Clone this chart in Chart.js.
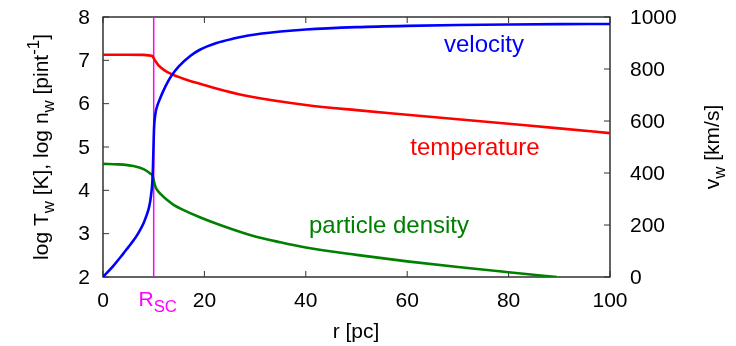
<!DOCTYPE html>
<html>
<head>
<meta charset="utf-8">
<script src="https://cdn.jsdelivr.net/npm/chart.js@4"></script>
<style>
  body { margin: 0; background: #fff; }
  canvas { display: block; }
</style>
</head>
<body>
<canvas id="chart" width="736" height="346"></canvas>
<script>
// Tick values
const xTicks = [0, 20, 40, 60, 80, 100];
const leftTicks = [2, 3, 4, 5, 6, 7, 8];
const rightTicks = [0, 200, 400, 600, 800, 1000];

// Sonic radius
const rSC = 10;

// Temperature (log T, left axis)
const rTemp = [0, 5, 8, 9, 9.5, 9.8, 10, 10.3, 10.9, 12, 13.2, 16, 19.1, 24, 29, 40, 50, 60, 70, 80, 90, 100];
const logTemp = [7.13, 7.13, 7.125, 7.115, 7.105, 7.09, 7.05, 6.99, 6.89, 6.78, 6.70, 6.57, 6.46, 6.30, 6.165, 5.97, 5.85, 5.745, 5.64, 5.535, 5.43, 5.32];

// Velocity (km/s, right axis)
const rVel = [0, 2, 4, 5, 6, 7, 8, 8.5, 9, 9.3, 9.5, 9.65, 9.75, 9.85, 9.92, 10, 10.05, 10.1, 10.15, 10.25, 10.4, 10.7, 11.2, 11.9, 12.6, 13.5, 15, 17.2, 19.1, 22.4, 26, 29, 35, 40, 50, 60, 70, 80, 90, 100];
const velocity = [0, 42, 90, 115, 140, 170, 207, 232, 262, 290, 318, 345, 372, 420, 470, 530, 562, 584, 598, 616, 636, 658, 684, 716, 744, 774, 811, 850, 874, 900, 918, 930, 944, 952, 961, 966, 969, 971, 972.5, 973];

// Particle density (log n, left axis)
const rDens = [0, 3, 6, 8, 9.3, 9.8, 10, 10.2, 10.6, 11.5, 12.6, 14, 15.8, 19.1, 23.1, 29, 35, 40, 50, 60, 70, 80, 89.5];
const logDens = [4.61, 4.60, 4.56, 4.49, 4.39, 4.33, 4.24, 4.13, 4.02, 3.90, 3.78, 3.66, 3.55, 3.38, 3.20, 2.97, 2.80, 2.68, 2.51, 2.36, 2.23, 2.11, 2.0];

const FONT = '"Liberation Sans", Arial, sans-serif';

function pts(xs, ys) {
  return xs.map((x, i) => ({ x: x, y: ys[i] }));
}

// Draw text with sub/superscript parts
function drawRich(ctx, parts, x, y, size, color, align) {
  let total = 0;
  parts.forEach((p) => {
    ctx.font = (p.s ? size * 0.8 : size) + 'px ' + FONT;
    p.w = ctx.measureText(p.t).width;
    total += p.w;
  });
  let cx = align === 'center' ? x - total / 2 : x;
  ctx.fillStyle = color;
  ctx.textAlign = 'left';
  ctx.textBaseline = 'alphabetic';
  parts.forEach((p) => {
    ctx.font = (p.s ? size * 0.8 : size) + 'px ' + FONT;
    const dy = p.s === 'sub' ? size * 0.3 : p.s === 'sup' ? -size * 0.42 : 0;
    ctx.fillText(p.t, cx, y + dy);
    cx += p.w;
  });
}

const framePlugin = {
  id: 'frame',
  beforeDatasetsDraw(chart) {
    const { ctx, chartArea: a, scales } = chart;
    ctx.save();
    ctx.strokeStyle = '#111';
    ctx.lineWidth = 1.3;
    ctx.strokeRect(a.left, a.top, a.right - a.left, a.bottom - a.top);

    // Inward ticks
    ctx.lineWidth = 1;
    ctx.strokeStyle = '#333';
    ctx.beginPath();
    xTicks.forEach((v) => {
      const px = scales.x.getPixelForValue(v);
      ctx.moveTo(px, a.bottom);
      ctx.lineTo(px, a.bottom - 6);
      ctx.moveTo(px, a.top);
      ctx.lineTo(px, a.top + 6);
    });
    leftTicks.forEach((v) => {
      const py = scales.y.getPixelForValue(v);
      ctx.moveTo(a.left, py);
      ctx.lineTo(a.left + 6, py);
    });
    rightTicks.forEach((v) => {
      const py = scales.y2.getPixelForValue(v);
      ctx.moveTo(a.right, py);
      ctx.lineTo(a.right - 6, py);
    });
    ctx.stroke();
    ctx.restore();
  },
  afterDraw(chart) {
    const { ctx, chartArea: a, scales } = chart;
    ctx.save();
    ctx.fillStyle = '#000';
    ctx.font = '21px ' + FONT;

    // Tick labels
    ctx.textAlign = 'center';
    ctx.textBaseline = 'alphabetic';
    xTicks.forEach((v) => {
      ctx.fillText(String(v), scales.x.getPixelForValue(v), a.bottom + 30);
    });
    ctx.textAlign = 'right';
    ctx.textBaseline = 'middle';
    leftTicks.forEach((v) => {
      ctx.fillText(String(v), a.left - 13, scales.y.getPixelForValue(v) + 1);
    });
    ctx.textAlign = 'left';
    rightTicks.forEach((v) => {
      ctx.fillText(String(v), a.right + 20, scales.y2.getPixelForValue(v) + 1);
    });

    // R_SC label
    drawRich(ctx, [{ t: 'R' }, { t: 'SC', s: 'sub' }],
      scales.x.getPixelForValue(rSC) + 4, a.bottom + 29, 21, '#ff00ff', 'center');

    // Axis titles
    drawRich(ctx, [{ t: 'r [pc]' }], 356, 338, 21, '#000', 'center');

    ctx.save();
    ctx.translate(48, (a.top + a.bottom) / 2);
    ctx.rotate(-Math.PI / 2);
    drawRich(ctx, [
      { t: 'log T' }, { t: 'w', s: 'sub' }, { t: ' [K], log n' }, { t: 'w', s: 'sub' },
      { t: ' [pint' }, { t: '-1', s: 'sup' }, { t: ']' },
    ], 0, 0, 21, '#000', 'center');
    ctx.restore();

    ctx.save();
    ctx.translate(719, (a.top + a.bottom) / 2);
    ctx.rotate(-Math.PI / 2);
    drawRich(ctx, [{ t: 'v' }, { t: 'w', s: 'sub' }, { t: ' [km/s]' }], 0, 0, 21, '#000', 'center');
    ctx.restore();

    // Curve labels
    drawRich(ctx, [{ t: 'velocity' }], 484, 52, 24, '#0000ff', 'center');
    drawRich(ctx, [{ t: 'temperature' }], 475, 155, 24, '#ff0000', 'center');
    drawRich(ctx, [{ t: 'particle density' }], 389, 233, 24, '#008000', 'center');
    ctx.restore();
  },
};

const lineStyle = {
  pointRadius: 0,
  borderWidth: 2.6,
  fill: false,
  cubicInterpolationMode: 'monotone',
};

new Chart(document.getElementById('chart'), {
  type: 'line',
  data: {
    datasets: [
      Object.assign({ data: pts(rVel, velocity), borderColor: '#0000ff', yAxisID: 'y2' }, lineStyle),
      Object.assign({ data: pts(rTemp, logTemp), borderColor: '#ff0000', yAxisID: 'y' }, lineStyle),
      Object.assign({ data: pts(rDens, logDens), borderColor: '#008000', yAxisID: 'y' }, lineStyle),
      {
        data: pts([rSC, rSC], [2, 8]),
        borderColor: '#ff00ff',
        borderWidth: 1.5,
        pointRadius: 0,
        yAxisID: 'y',
      },
    ],
  },
  options: {
    responsive: false,
    devicePixelRatio: 1,
    animation: false,
    layout: {
      padding: { left: 103, right: 126, top: 17, bottom: 69 },
    },
    plugins: {
      legend: { display: false },
      tooltip: { enabled: false },
    },
    scales: {
      x: { type: 'linear', min: 0, max: 100, display: false },
      y: { type: 'linear', min: 2, max: 8, display: false },
      y2: { type: 'linear', min: 0, max: 1000, display: false, position: 'right' },
    },
  },
  plugins: [framePlugin],
});
</script>
</body>
</html>
